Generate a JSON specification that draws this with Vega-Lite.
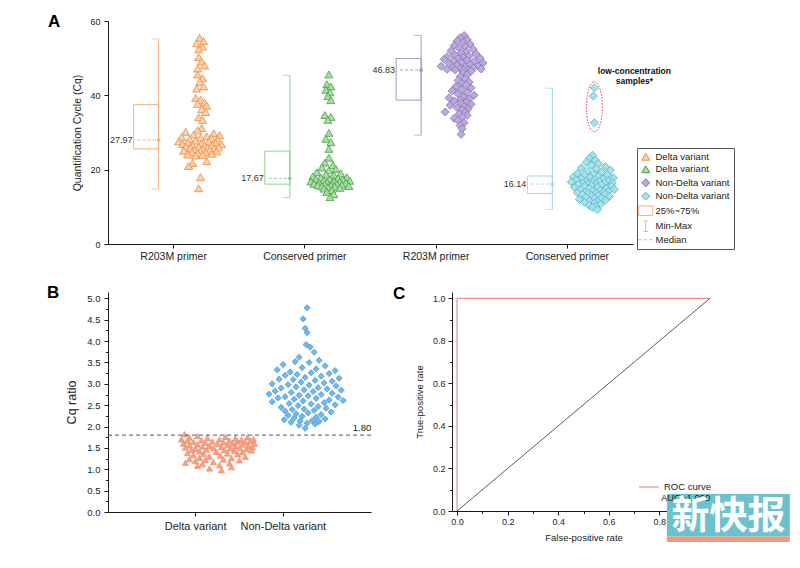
{
"$schema":"https://vega.github.io/schema/vega-lite/v6.json",
"padding":{"left":47,"top":13,"right":5,"bottom":5},
"background":"white",
"config":{"font":"Liberation Sans","view":{"stroke":null},"axis":{"grid":false,"domainColor":"#1a1a1a","tickColor":"#1a1a1a","labelColor":"#222","titleColor":"#222","titleFontWeight":"normal"}},
"resolve":{"scale":{"shape":"independent","fill":"independent","stroke":"independent","color":"independent"}},
"datasets":{
"pa":[
{"c":"R1","v":55.5,"j":26},{"c":"R1","v":54.6,"j":30},{"c":"R1","v":54.0,"j":23},{"c":"R1","v":53.1,"j":29},{"c":"R1","v":52.4,"j":25},{"c":"R1","v":50.3,"j":25},{"c":"R1","v":49.1,"j":28},{"c":"R1","v":48.0,"j":31},{"c":"R1","v":47.2,"j":24},{"c":"R1","v":45.6,"j":24},{"c":"R1","v":44.6,"j":29},{"c":"R1","v":43.6,"j":26},{"c":"R1","v":42.4,"j":30},{"c":"R1","v":41.8,"j":23},{"c":"R1","v":39.3,"j":22},{"c":"R1","v":38.8,"j":27},{"c":"R1","v":38.1,"j":31},{"c":"R1","v":37.7,"j":24},{"c":"R1","v":37.2,"j":33},{"c":"R1","v":36.3,"j":28},{"c":"R1","v":35.5,"j":32},{"c":"R1","v":34.1,"j":25},{"c":"R1","v":33.4,"j":29},{"c":"R1","v":31.2,"j":28},{"c":"R1","v":30.6,"j":24},
{"c":"R1","v":30.2,"j":12},{"c":"R1","v":29.8,"j":40},{"c":"R1","v":29.5,"j":20},{"c":"R1","v":29.3,"j":46},{"c":"R1","v":29.0,"j":33},{"c":"R1","v":28.8,"j":8},{"c":"R1","v":28.6,"j":27},{"c":"R1","v":28.4,"j":38},{"c":"R1","v":28.2,"j":16},{"c":"R1","v":28.1,"j":44},
{"c":"R1","v":27.8,"j":22},{"c":"R1","v":27.6,"j":5},{"c":"R1","v":27.5,"j":35},{"c":"R1","v":27.3,"j":14},{"c":"R1","v":27.2,"j":42},{"c":"R1","v":27.0,"j":28},{"c":"R1","v":26.9,"j":9},{"c":"R1","v":26.8,"j":48},{"c":"R1","v":26.6,"j":19},{"c":"R1","v":26.5,"j":31},{"c":"R1","v":26.4,"j":38},{"c":"R1","v":26.2,"j":12},{"c":"R1","v":26.1,"j":25},{"c":"R1","v":26.0,"j":45},{"c":"R1","v":25.9,"j":34},{"c":"R1","v":25.8,"j":17},{"c":"R1","v":25.7,"j":40},{"c":"R1","v":25.6,"j":29},
{"c":"R1","v":25.4,"j":21},{"c":"R1","v":25.3,"j":36},{"c":"R1","v":25.1,"j":10},{"c":"R1","v":25.0,"j":27},{"c":"R1","v":24.9,"j":43},{"c":"R1","v":24.7,"j":18},{"c":"R1","v":24.6,"j":32},{"c":"R1","v":24.4,"j":24},{"c":"R1","v":24.3,"j":38},{"c":"R1","v":24.1,"j":14},{"c":"R1","v":24.0,"j":29},{"c":"R1","v":23.8,"j":22},
{"c":"R1","v":22.3,"j":33},{"c":"R1","v":21.8,"j":19},{"c":"R1","v":21.0,"j":15},{"c":"R1","v":18.0,"j":27},{"c":"R1","v":15.0,"j":25},
{"c":"C1","v":45.6,"j":24},{"c":"C1","v":43.0,"j":22},{"c":"C1","v":42.4,"j":26},{"c":"C1","v":41.5,"j":21},{"c":"C1","v":40.8,"j":25},{"c":"C1","v":39.8,"j":23},{"c":"C1","v":38.7,"j":26},{"c":"C1","v":34.7,"j":20},{"c":"C1","v":34.2,"j":26},{"c":"C1","v":33.4,"j":23},{"c":"C1","v":29.9,"j":24},{"c":"C1","v":28.3,"j":21},{"c":"C1","v":27.4,"j":26},{"c":"C1","v":25.6,"j":24},
{"c":"C1","v":23.2,"j":24},{"c":"C1","v":21.9,"j":20},{"c":"C1","v":21.2,"j":28},{"c":"C1","v":20.6,"j":17},{"c":"C1","v":20.2,"j":31},{"c":"C1","v":19.8,"j":24},{"c":"C1","v":19.3,"j":12},{"c":"C1","v":19.0,"j":36},{"c":"C1","v":18.7,"j":21},{"c":"C1","v":18.5,"j":29},{"c":"C1","v":18.2,"j":8},{"c":"C1","v":18.0,"j":42},{"c":"C1","v":17.9,"j":16},{"c":"C1","v":17.7,"j":33},
{"c":"C1","v":17.5,"j":25},{"c":"C1","v":17.4,"j":11},{"c":"C1","v":17.3,"j":38},{"c":"C1","v":17.1,"j":19},{"c":"C1","v":17.0,"j":45},{"c":"C1","v":16.9,"j":29},{"c":"C1","v":16.8,"j":6},{"c":"C1","v":16.7,"j":35},{"c":"C1","v":16.6,"j":22},{"c":"C1","v":16.5,"j":14},{"c":"C1","v":16.4,"j":41},{"c":"C1","v":16.3,"j":27},{"c":"C1","v":16.2,"j":9},{"c":"C1","v":16.1,"j":32},
{"c":"C1","v":16.0,"j":20},{"c":"C1","v":15.9,"j":37},{"c":"C1","v":15.8,"j":13},{"c":"C1","v":15.7,"j":26},{"c":"C1","v":15.6,"j":44},{"c":"C1","v":15.5,"j":17},{"c":"C1","v":15.4,"j":30},{"c":"C1","v":15.3,"j":23},{"c":"C1","v":15.1,"j":35},{"c":"C1","v":14.9,"j":19},{"c":"C1","v":14.5,"j":27},{"c":"C1","v":14.0,"j":22},{"c":"C1","v":13.4,"j":29},{"c":"C1","v":12.6,"j":25},
{"c":"R2","v":56.1,"j":28},{"c":"R2","v":55.5,"j":24},{"c":"R2","v":55.0,"j":31},{"c":"R2","v":54.6,"j":21},{"c":"R2","v":54.2,"j":27},{"c":"R2","v":53.8,"j":34},{"c":"R2","v":53.4,"j":18},{"c":"R2","v":53.1,"j":29},{"c":"R2","v":52.7,"j":23},{"c":"R2","v":52.4,"j":37},{"c":"R2","v":52.0,"j":15},{"c":"R2","v":51.7,"j":30},{"c":"R2","v":51.4,"j":25},{"c":"R2","v":51.1,"j":40},{"c":"R2","v":50.8,"j":19},{"c":"R2","v":50.6,"j":33},{"c":"R2","v":50.4,"j":11},{"c":"R2","v":50.2,"j":27},{"c":"R2","v":50.0,"j":44},{"c":"R2","v":49.9,"j":22},
{"c":"R2","v":49.7,"j":8},{"c":"R2","v":49.5,"j":31},{"c":"R2","v":49.3,"j":17},{"c":"R2","v":49.1,"j":38},{"c":"R2","v":48.9,"j":25},{"c":"R2","v":48.7,"j":47},{"c":"R2","v":48.5,"j":13},{"c":"R2","v":48.3,"j":34},{"c":"R2","v":48.1,"j":21},{"c":"R2","v":47.9,"j":42},{"c":"R2","v":47.8,"j":5},{"c":"R2","v":47.6,"j":29},{"c":"R2","v":47.5,"j":16},{"c":"R2","v":47.3,"j":37},{"c":"R2","v":47.2,"j":24},{"c":"R2","v":47.1,"j":45},{"c":"R2","v":47.0,"j":11},{"c":"R2","v":46.9,"j":32},{"c":"R2","v":46.85,"j":19},{"c":"R2","v":46.8,"j":27},
{"c":"R2","v":46.5,"j":35},{"c":"R2","v":46.0,"j":27},{"c":"R2","v":45.5,"j":31},{"c":"R2","v":45.0,"j":24},{"c":"R2","v":44.5,"j":29},{"c":"R2","v":44.0,"j":22},{"c":"R2","v":43.6,"j":33},{"c":"R2","v":43.2,"j":26},{"c":"R2","v":42.8,"j":30},{"c":"R2","v":42.4,"j":20},{"c":"R2","v":42.0,"j":35},{"c":"R2","v":41.6,"j":25},{"c":"R2","v":41.2,"j":16},{"c":"R2","v":40.8,"j":31},{"c":"R2","v":40.4,"j":22},{"c":"R2","v":40.0,"j":38},{"c":"R2","v":39.6,"j":27},{"c":"R2","v":39.3,"j":13},{"c":"R2","v":39.0,"j":33},{"c":"R2","v":38.8,"j":24},
{"c":"R2","v":38.5,"j":18},{"c":"R2","v":38.2,"j":30},{"c":"R2","v":37.9,"j":25},{"c":"R2","v":37.6,"j":35},{"c":"R2","v":37.3,"j":14},{"c":"R2","v":37.0,"j":28},{"c":"R2","v":36.7,"j":21},{"c":"R2","v":36.4,"j":32},{"c":"R2","v":36.1,"j":26},{"c":"R2","v":35.5,"j":9},{"c":"R2","v":35.4,"j":29},{"c":"R2","v":35.0,"j":23},{"c":"R2","v":34.6,"j":31},{"c":"R2","v":34.2,"j":26},{"c":"R2","v":33.8,"j":18},{"c":"R2","v":33.3,"j":22},{"c":"R2","v":32.6,"j":28},{"c":"R2","v":31.9,"j":24},{"c":"R2","v":31.0,"j":26},{"c":"R2","v":29.5,"j":25},
{"c":"C2","v":42.0,"j":27},{"c":"C2","v":39.8,"j":26},{"c":"C2","v":32.6,"j":27},
{"c":"C2","v":23.9,"j":25},{"c":"C2","v":23.0,"j":22},{"c":"C2","v":22.6,"j":28},{"c":"C2","v":22.0,"j":19},{"c":"C2","v":21.6,"j":31},{"c":"C2","v":21.2,"j":24},{"c":"C2","v":20.8,"j":38},{"c":"C2","v":20.5,"j":14},{"c":"C2","v":20.2,"j":29},{"c":"C2","v":19.9,"j":43},{"c":"C2","v":19.6,"j":20},{"c":"C2","v":19.3,"j":34},{"c":"C2","v":19.0,"j":10},{"c":"C2","v":18.8,"j":26},{"c":"C2","v":18.6,"j":40},{"c":"C2","v":18.4,"j":17},
{"c":"C2","v":18.2,"j":31},{"c":"C2","v":18.0,"j":6},{"c":"C2","v":17.9,"j":23},{"c":"C2","v":17.8,"j":46},{"c":"C2","v":17.6,"j":14},{"c":"C2","v":17.5,"j":36},{"c":"C2","v":17.3,"j":27},{"c":"C2","v":17.2,"j":9},{"c":"C2","v":17.0,"j":41},{"c":"C2","v":16.9,"j":19},{"c":"C2","v":16.8,"j":32},{"c":"C2","v":16.7,"j":4},{"c":"C2","v":16.6,"j":25},{"c":"C2","v":16.5,"j":45},{"c":"C2","v":16.4,"j":15},{"c":"C2","v":16.3,"j":37},{"c":"C2","v":16.2,"j":21},{"c":"C2","v":16.15,"j":29},
{"c":"C2","v":16.0,"j":11},{"c":"C2","v":15.9,"j":34},{"c":"C2","v":15.7,"j":24},{"c":"C2","v":15.6,"j":44},{"c":"C2","v":15.5,"j":17},{"c":"C2","v":15.3,"j":30},{"c":"C2","v":15.2,"j":7},{"c":"C2","v":15.0,"j":39},{"c":"C2","v":14.9,"j":22},{"c":"C2","v":14.7,"j":47},{"c":"C2","v":14.6,"j":13},{"c":"C2","v":14.4,"j":33},{"c":"C2","v":14.3,"j":26},{"c":"C2","v":14.1,"j":41},{"c":"C2","v":14.0,"j":18},{"c":"C2","v":13.9,"j":36},{"c":"C2","v":13.8,"j":10},{"c":"C2","v":13.7,"j":29},{"c":"C2","v":13.6,"j":21},
{"c":"C2","v":13.4,"j":38},{"c":"C2","v":13.3,"j":15},{"c":"C2","v":13.1,"j":31},{"c":"C2","v":13.0,"j":24},{"c":"C2","v":12.8,"j":42},{"c":"C2","v":12.6,"j":19},{"c":"C2","v":12.4,"j":34},{"c":"C2","v":12.2,"j":27},{"c":"C2","v":12.0,"j":12},{"c":"C2","v":11.8,"j":38},{"c":"C2","v":11.6,"j":22},{"c":"C2","v":11.4,"j":30},{"c":"C2","v":11.2,"j":17},{"c":"C2","v":11.0,"j":27},{"c":"C2","v":10.7,"j":33},{"c":"C2","v":10.4,"j":22},{"c":"C2","v":10.1,"j":28},{"c":"C2","v":9.8,"j":25},{"c":"C2","v":9.3,"j":30}
],
"boxes":[
{"c":"R1","mn":14.8,"q1":25.6,"med":27.97,"q3":37.5,"mx":55.2,"lab":"27.97"},
{"c":"C1","mn":12.5,"q1":16.1,"med":17.67,"q3":25.0,"mx":45.4,"lab":"17.67"},
{"c":"R2","mn":29.3,"q1":38.7,"med":46.83,"q3":49.9,"mx":56.1,"lab":"46.83"},
{"c":"C2","mn":9.3,"q1":13.6,"med":16.14,"q3":18.3,"mx":41.9,"lab":"16.14"}
],
"pb":[
{"c":"Delta variant","v":1.82,"j":-33},{"c":"Delta variant","v":1.78,"j":-20},{"c":"Delta variant","v":1.76,"j":8},{"c":"Delta variant","v":1.75,"j":30},{"c":"Delta variant","v":1.74,"j":-28},{"c":"Delta variant","v":1.73,"j":-10},{"c":"Delta variant","v":1.72,"j":18},{"c":"Delta variant","v":1.71,"j":36},{"c":"Delta variant","v":1.70,"j":-36},{"c":"Delta variant","v":1.70,"j":2},{"c":"Delta variant","v":1.69,"j":24},{"c":"Delta variant","v":1.68,"j":-16},{"c":"Delta variant","v":1.67,"j":12},{"c":"Delta variant","v":1.67,"j":-30},{"c":"Delta variant","v":1.66,"j":33},{"c":"Delta variant","v":1.65,"j":-5},{"c":"Delta variant","v":1.65,"j":20},{"c":"Delta variant","v":1.64,"j":-24},{"c":"Delta variant","v":1.63,"j":28},{"c":"Delta variant","v":1.63,"j":6},{"c":"Delta variant","v":1.62,"j":-12},{"c":"Delta variant","v":1.61,"j":15},{"c":"Delta variant","v":1.60,"j":-34},{"c":"Delta variant","v":1.60,"j":37},{"c":"Delta variant","v":1.59,"j":0},{"c":"Delta variant","v":1.58,"j":-20},{"c":"Delta variant","v":1.58,"j":25},{"c":"Delta variant","v":1.57,"j":10},{"c":"Delta variant","v":1.56,"j":-28},{"c":"Delta variant","v":1.55,"j":31},{"c":"Delta variant","v":1.55,"j":-8},{"c":"Delta variant","v":1.54,"j":18},{"c":"Delta variant","v":1.53,"j":-15},{"c":"Delta variant","v":1.52,"j":35},{"c":"Delta variant","v":1.52,"j":4},{"c":"Delta variant","v":1.51,"j":-32},{"c":"Delta variant","v":1.50,"j":22},{"c":"Delta variant","v":1.50,"j":-4},{"c":"Delta variant","v":1.49,"j":13},{"c":"Delta variant","v":1.48,"j":-22},{"c":"Delta variant","v":1.47,"j":29},{"c":"Delta variant","v":1.46,"j":-11},{"c":"Delta variant","v":1.45,"j":7},{"c":"Delta variant","v":1.45,"j":-26},{"c":"Delta variant","v":1.44,"j":34},{"c":"Delta variant","v":1.43,"j":17},{"c":"Delta variant","v":1.42,"j":-18},{"c":"Delta variant","v":1.41,"j":-1},{"c":"Delta variant","v":1.40,"j":25},{"c":"Delta variant","v":1.38,"j":-30},{"c":"Delta variant","v":1.37,"j":10},{"c":"Delta variant","v":1.36,"j":-14},{"c":"Delta variant","v":1.35,"j":20},{"c":"Delta variant","v":1.33,"j":-24},{"c":"Delta variant","v":1.32,"j":3},{"c":"Delta variant","v":1.30,"j":-8},{"c":"Delta variant","v":1.29,"j":28},{"c":"Delta variant","v":1.27,"j":-18},{"c":"Delta variant","v":1.26,"j":14},{"c":"Delta variant","v":1.24,"j":-28},{"c":"Delta variant","v":1.23,"j":6},{"c":"Delta variant","v":1.22,"j":-12},{"c":"Delta variant","v":1.21,"j":22},{"c":"Delta variant","v":1.19,"j":-22},{"c":"Delta variant","v":1.17,"j":-4},{"c":"Delta variant","v":1.15,"j":-32},{"c":"Delta variant","v":1.14,"j":12},{"c":"Delta variant","v":1.12,"j":-15},{"c":"Delta variant","v":1.10,"j":2},{"c":"Delta variant","v":1.08,"j":-20},{"c":"Delta variant","v":1.05,"j":14},{"c":"Delta variant","v":1.02,"j":-8},{"c":"Delta variant","v":0.98,"j":4},
{"c":"Non-Delta variant","v":4.78,"j":2},{"c":"Non-Delta variant","v":4.52,"j":-2},{"c":"Non-Delta variant","v":4.30,"j":0},{"c":"Non-Delta variant","v":4.20,"j":2},{"c":"Non-Delta variant","v":3.92,"j":1},{"c":"Non-Delta variant","v":3.86,"j":5},{"c":"Non-Delta variant","v":3.74,"j":9},{"c":"Non-Delta variant","v":3.62,"j":-6},{"c":"Non-Delta variant","v":3.55,"j":14},{"c":"Non-Delta variant","v":3.52,"j":-10},{"c":"Non-Delta variant","v":3.50,"j":4},{"c":"Non-Delta variant","v":3.45,"j":-22},{"c":"Non-Delta variant","v":3.42,"j":20},{"c":"Non-Delta variant","v":3.38,"j":-3},{"c":"Non-Delta variant","v":3.35,"j":11},{"c":"Non-Delta variant","v":3.33,"j":-28},{"c":"Non-Delta variant","v":3.31,"j":30},{"c":"Non-Delta variant","v":3.28,"j":-15},{"c":"Non-Delta variant","v":3.26,"j":6},{"c":"Non-Delta variant","v":3.24,"j":24},{"c":"Non-Delta variant","v":3.22,"j":-8},{"c":"Non-Delta variant","v":3.20,"j":-20},{"c":"Non-Delta variant","v":3.18,"j":16},{"c":"Non-Delta variant","v":3.15,"j":0},{"c":"Non-Delta variant","v":3.13,"j":34},{"c":"Non-Delta variant","v":3.11,"j":-26},{"c":"Non-Delta variant","v":3.10,"j":-12},{"c":"Non-Delta variant","v":3.08,"j":10},{"c":"Non-Delta variant","v":3.06,"j":27},{"c":"Non-Delta variant","v":3.04,"j":-4},{"c":"Non-Delta variant","v":3.02,"j":19},{"c":"Non-Delta variant","v":3.00,"j":-33},{"c":"Non-Delta variant","v":2.98,"j":-17},{"c":"Non-Delta variant","v":2.97,"j":4},{"c":"Non-Delta variant","v":2.95,"j":31},{"c":"Non-Delta variant","v":2.93,"j":-9},{"c":"Non-Delta variant","v":2.91,"j":13},{"c":"Non-Delta variant","v":2.90,"j":-24},{"c":"Non-Delta variant","v":2.88,"j":22},{"c":"Non-Delta variant","v":2.86,"j":-1},{"c":"Non-Delta variant","v":2.85,"j":36},{"c":"Non-Delta variant","v":2.83,"j":-30},{"c":"Non-Delta variant","v":2.82,"j":8},{"c":"Non-Delta variant","v":2.80,"j":-14},{"c":"Non-Delta variant","v":2.78,"j":27},{"c":"Non-Delta variant","v":2.76,"j":-36},{"c":"Non-Delta variant","v":2.75,"j":16},{"c":"Non-Delta variant","v":2.73,"j":-6},{"c":"Non-Delta variant","v":2.72,"j":3},{"c":"Non-Delta variant","v":2.70,"j":-20},{"c":"Non-Delta variant","v":2.69,"j":33},{"c":"Non-Delta variant","v":2.67,"j":-27},{"c":"Non-Delta variant","v":2.66,"j":11},{"c":"Non-Delta variant","v":2.64,"j":-11},{"c":"Non-Delta variant","v":2.62,"j":24},{"c":"Non-Delta variant","v":2.61,"j":38},{"c":"Non-Delta variant","v":2.60,"j":-2},{"c":"Non-Delta variant","v":2.58,"j":-33},{"c":"Non-Delta variant","v":2.56,"j":19},{"c":"Non-Delta variant","v":2.54,"j":-16},{"c":"Non-Delta variant","v":2.53,"j":6},{"c":"Non-Delta variant","v":2.51,"j":30},{"c":"Non-Delta variant","v":2.49,"j":-7},{"c":"Non-Delta variant","v":2.47,"j":13},{"c":"Non-Delta variant","v":2.45,"j":-24},{"c":"Non-Delta variant","v":2.43,"j":21},{"c":"Non-Delta variant","v":2.41,"j":-1},{"c":"Non-Delta variant","v":2.40,"j":-13},{"c":"Non-Delta variant","v":2.38,"j":9},{"c":"Non-Delta variant","v":2.36,"j":-20},{"c":"Non-Delta variant","v":2.34,"j":26},{"c":"Non-Delta variant","v":2.32,"j":3},{"c":"Non-Delta variant","v":2.30,"j":-9},{"c":"Non-Delta variant","v":2.28,"j":16},{"c":"Non-Delta variant","v":2.26,"j":-17},{"c":"Non-Delta variant","v":2.24,"j":-3},{"c":"Non-Delta variant","v":2.22,"j":11},{"c":"Non-Delta variant","v":2.20,"j":-11},{"c":"Non-Delta variant","v":2.18,"j":20},{"c":"Non-Delta variant","v":2.16,"j":-21},{"c":"Non-Delta variant","v":2.14,"j":7},{"c":"Non-Delta variant","v":2.13,"j":-5},{"c":"Non-Delta variant","v":2.12,"j":14},{"c":"Non-Delta variant","v":2.10,"j":-14},{"c":"Non-Delta variant","v":2.08,"j":2},{"c":"Non-Delta variant","v":2.06,"j":10},{"c":"Non-Delta variant","v":2.03,"j":-6},{"c":"Non-Delta variant","v":1.96,"j":0}
],
"roc":[{"fpr":0,"tpr":0,"o":0,"k":"ROC curve"},{"fpr":0,"tpr":1,"o":1,"k":"ROC curve"},{"fpr":1,"tpr":1,"o":2,"k":"ROC curve"}],
"diag":[{"fpr":0,"tpr":0},{"fpr":1,"tpr":1}]
},
"bounds":"flush",
"spacing":48,
"vconcat":[
{
"width":525,"height":223,
"title":{"text":"A","anchor":"start","frame":"group","dx":-60,"dy":27,"offset":0,"fontSize":17,"fontWeight":"bold","color":"#000","baseline":"alphabetic"},
"layer":[
{"data":{"name":"pa"},"mark":{"type":"point","filled":true,"size":64,"strokeWidth":0.8,"opacity":1},
"encoding":{
"x":{"field":"c","type":"nominal","scale":{"type":"band","domain":["R1","C1","R2","C2"],"paddingInner":0,"paddingOuter":0},"axis":{"title":null,"labelExpr":"datum.value=='R1'||datum.value=='R2'?'R203M primer':'Conserved primer'","labelFontSize":10.5,"labelAngle":0,"tickSize":4,"labelPadding":3}},
"xOffset":{"field":"j","type":"quantitative","scale":{"domain":[-65.625,65.625],"range":[0,131.25],"nice":false,"zero":false}},
"y":{"field":"v","type":"quantitative","scale":{"domain":[0,60],"nice":false,"zero":false},"axis":{"values":[0,10,20,30,40,50,60],"title":"Quantification Cycle (Cq)","titleFontSize":10.5,"labelFontSize":9,"tickSize":4,"labelPadding":4,"titlePadding":7}},
"shape":{"field":"c","type":"nominal","title":null,"scale":{"domain":["R1","C1","R2","C2","box","mm","med"],"range":["triangle-up","triangle-up","diamond","diamond","M-1.75,-1.2L1.75,-1.2L1.75,1.2L-1.75,1.2Z","M-0.6,-1.3L0.6,-1.3M0,-1.3L0,1.3M-0.6,1.3L0.6,1.3","M-1.9,0L-1.1,0M-0.5,0L0.3,0M0.9,0L1.7,0"]},
"legend":{"orient":"none","legendX":529,"legendY":127,"title":null,"labelExpr":"datum.value=='R1'||datum.value=='C1'?'Delta variant':datum.value=='R2'||datum.value=='C2'?'Non-Delta variant':datum.value=='box'?'25%~75%':datum.value=='mm'?'Min-Max':'Median'","labelFontSize":9.5,"labelColor":"#222","symbolSize":64,"symbolStrokeWidth":1,"rowPadding":0.5,"padding":4,"strokeColor":"#555","labelOffset":5}},
"fill":{"field":"c","type":"nominal","title":null,"scale":{"domain":["R1","C1","R2","C2","box","mm","med"],"range":["#fbd0ad","#abdca5","#bba9da","#a9e1ea","rgba(255,255,255,0)","rgba(255,255,255,0)","rgba(255,255,255,0)"]}},
"stroke":{"field":"c","type":"nominal","title":null,"scale":{"domain":["R1","C1","R2","C2","box","mm","med"],"range":["#ec8b40","#44a044","#8672b8","#4db3c6","#f4b283","#f4b283","#f4b283"]}}
}},
{"data":{"name":"boxes"},"mark":{"type":"bar","width":25,"xOffset":-27.5,"filled":false,"strokeWidth":1},
"encoding":{"x":{"field":"c","type":"nominal"},"y":{"field":"q1","type":"quantitative"},"y2":{"field":"q3"},
"color":{"field":"c","type":"nominal","scale":{"domain":["R1","C1","R2","C2"],"range":["#f6b07c","#8ed08a","#a497c6","#9fd8e4"]},"legend":null}}},
{"data":{"name":"boxes"},"mark":{"type":"rule","xOffset":-15,"strokeWidth":1},
"encoding":{"x":{"field":"c","type":"nominal"},"y":{"field":"mn","type":"quantitative"},"y2":{"field":"mx"},"color":{"field":"c","type":"nominal","legend":null}}},
{"data":{"name":"boxes"},"mark":{"type":"tick","size":7,"thickness":1,"xOffset":-18.5,"orient":"horizontal"},
"encoding":{"x":{"field":"c","type":"nominal"},"y":{"field":"mn","type":"quantitative"},"color":{"field":"c","type":"nominal","legend":null}}},
{"data":{"name":"boxes"},"mark":{"type":"tick","size":7,"thickness":1,"xOffset":-18.5,"orient":"horizontal"},
"encoding":{"x":{"field":"c","type":"nominal"},"y":{"field":"mx","type":"quantitative"},"color":{"field":"c","type":"nominal","legend":null}}},
{"data":{"name":"boxes"},"mark":{"type":"point","shape":"M-1,0L-0.72,0M-0.52,0L-0.24,0M-0.04,0L0.24,0M0.44,0L0.72,0M0.92,0L1,0","size":441,"filled":false,"strokeWidth":1,"xOffset":-25.5,"opacity":1},
"encoding":{"x":{"field":"c","type":"nominal"},"y":{"field":"med","type":"quantitative"},"color":{"field":"c","type":"nominal","legend":null}}},
{"data":{"name":"boxes"},"mark":{"type":"point","filled":true,"size":14,"xOffset":-15,"opacity":1},
"encoding":{"x":{"field":"c","type":"nominal"},"y":{"field":"med","type":"quantitative"},"color":{"field":"c","type":"nominal","legend":null}}},
{"data":{"name":"boxes"},"mark":{"type":"text","align":"right","baseline":"middle","xOffset":-41,"fontSize":9,"color":"#333"},
"encoding":{"x":{"field":"c","type":"nominal"},"y":{"field":"med","type":"quantitative"},"text":{"field":"lab"}}},
{"data":{"values":[{"c":"C2","v":36.9}]},"mark":{"type":"point","shape":"M0,-1C0.177,-1 0.32,-0.552 0.32,0C0.32,0.552 0.177,1 0,1C-0.177,1 -0.32,0.552 -0.32,0C-0.32,-0.552 -0.177,-1 0,-1Z","size":2500,"filled":false,"stroke":"#e2474b","strokeDash":[1.5,1.5],"strokeWidth":1,"xOffset":27,"opacity":1},
"encoding":{"x":{"field":"c","type":"nominal"},"y":{"field":"v","type":"quantitative"}}},
{"data":{"values":[{"c":"C2","v":47.6,"t":"low-concentration\nsamples*"}]},"mark":{"type":"text","lineBreak":"\n","xOffset":67,"align":"center","baseline":"top","fontSize":8.5,"fontWeight":"bold","lineHeight":9.5,"color":"#111"},
"encoding":{"x":{"field":"c","type":"nominal"},"y":{"field":"v","type":"quantitative"},"text":{"field":"t"}}}
]
},
{
"resolve":{"scale":{"shape":"independent","fill":"independent","stroke":"independent","color":"independent"}},
"hconcat":[
{
"width":263,"height":220,
"title":{"text":"B","anchor":"start","frame":"group","dx":-61,"dy":23,"offset":0,"fontSize":17,"fontWeight":"bold","color":"#000","baseline":"alphabetic"},
"resolve":{"axis":{"y":"independent"}},
"layer":[
{"data":{"name":"pb"},"mark":{"type":"point","filled":true,"size":38,"strokeWidth":0.7,"opacity":1},
"encoding":{
"x":{"field":"c","type":"nominal","scale":{"type":"band","domain":["Delta variant","Non-Delta variant"],"paddingInner":0,"paddingOuter":0.5},"axis":{"title":null,"labelAngle":0,"labelFontSize":11,"tickSize":4,"labelPadding":4}},
"xOffset":{"field":"j","type":"quantitative","scale":{"domain":[-43.8333,43.8333],"range":[0,87.6667],"nice":false,"zero":false}},
"y":{"field":"v","type":"quantitative","scale":{"domain":[0,5.15],"nice":false,"zero":false},"axis":{"values":[0,0.5,1,1.5,2,2.5,3,3.5,4,4.5,5],"format":".1f","title":"Cq ratio","titleFontSize":12.5,"labelFontSize":9.5,"tickSize":4,"labelPadding":4,"titlePadding":8}},
"shape":{"field":"c","type":"nominal","scale":{"domain":["Delta variant","Non-Delta variant"],"range":["triangle-up","diamond"]},"legend":null},
"fill":{"field":"c","type":"nominal","scale":{"domain":["Delta variant","Non-Delta variant"],"range":["#f5a287","#74b7ea"]},"legend":null},
"stroke":{"field":"c","type":"nominal","scale":{"domain":["Delta variant","Non-Delta variant"],"range":["#ec8866","#3f90d4"]},"legend":null}
}},
{"data":{"values":[{}]},"mark":{"type":"rule","strokeDash":[4,3],"color":"#555","strokeWidth":1},
"encoding":{"y":{"datum":1.8,"type":"quantitative","axis":{"orient":"left","values":[0.25,0.75,1.25,1.75,2.25,2.75,3.25,3.75,4.25,4.75],"labels":false,"domain":false,"tickSize":2.5,"title":null}}}},
{"data":{"values":[{"c":"Non-Delta variant","v":1.8,"t":"1.80"}]},"mark":{"type":"text","align":"right","baseline":"bottom","xOffset":88,"dy":-2,"fontSize":9.5,"color":"#222"},
"encoding":{"x":{"field":"c","type":"nominal"},"y":{"field":"v","type":"quantitative","axis":null},"text":{"field":"t"}}}
]
},
{
"width":263,"height":219,
"title":{"text":"C","anchor":"start","frame":"group","dx":-59,"dy":24,"offset":0,"fontSize":17,"fontWeight":"bold","color":"#000","baseline":"alphabetic"},
"resolve":{"axis":{"x":"independent","y":"independent"}},
"layer":[
{"data":{"name":"roc"},"mark":{"type":"line","strokeWidth":1.2},
"encoding":{
"x":{"field":"fpr","type":"quantitative","scale":{"domain":[-0.02,1.02],"nice":false,"zero":false},"axis":{"values":[0,0.2,0.4,0.6,0.8,1],"format":".1f","title":"False-positive rate","titleFontSize":9.5,"labelFontSize":9,"tickSize":4,"labelPadding":2,"titlePadding":6}},
"y":{"field":"tpr","type":"quantitative","scale":{"domain":[0,1.03],"nice":false,"zero":false},"axis":{"values":[0,0.2,0.4,0.6,0.8,1],"format":".1f","title":"True-positive rate","titleFontSize":9.5,"labelFontSize":9,"tickSize":4,"labelPadding":3,"titlePadding":8}},
"order":{"field":"o","type":"quantitative"},
"stroke":{"field":"k","type":"nominal","scale":{"domain":["ROC curve"],"range":["#f28b8b"]},"legend":{"orient":"none","legendX":186,"legendY":184,"title":null,"symbolType":"stroke","symbolSize":400,"symbolStrokeWidth":1.2,"labelFontSize":9.5,"labelOffset":4,"padding":0,"labelColor":"#222"}}
}},
{"data":{"name":"diag"},"mark":{"type":"line","color":"#333","strokeWidth":0.8},
"encoding":{
"x":{"field":"fpr","type":"quantitative","axis":{"orient":"bottom","values":[0.1,0.3,0.5,0.7,0.9],"labels":false,"domain":false,"tickSize":2.5,"title":null}},
"y":{"field":"tpr","type":"quantitative","axis":{"orient":"left","values":[0.1,0.3,0.5,0.7,0.9],"labels":false,"domain":false,"tickSize":2.5,"title":null}}
}},
{"data":{"values":[{"x1":0.83,"x2":1.316,"y1":-0.12,"y2":0.08}]},"mark":{"type":"rect","color":"#69c3ce"},
"encoding":{"x":{"field":"x1","type":"quantitative","axis":null},"x2":{"field":"x2"},"y":{"field":"y1","type":"quantitative","axis":null},"y2":{"field":"y2"}}},
{"data":{"values":[{"x1":0.83,"x2":1.316,"y1":-0.146,"y2":-0.12}]},"mark":{"type":"rect","color":"#ec9c7c"},
"encoding":{"x":{"field":"x1","type":"quantitative","axis":null},"x2":{"field":"x2"},"y":{"field":"y1","type":"quantitative","axis":null},"y2":{"field":"y2"}}},
{"data":{"values":[{"fpr":0.806,"tpr":0.061,"t":"AUC=1.000"}]},"mark":{"type":"text","align":"left","baseline":"middle","fontSize":9.5,"color":"#222"},
"encoding":{"x":{"field":"fpr","type":"quantitative","axis":null},"y":{"field":"tpr","type":"quantitative","axis":null},"text":{"field":"t"}}},
{"data":{"values":[{"fpr":1.073,"tpr":-0.03,"t":"新快报"}]},"mark":{"type":"text","align":"center","baseline":"middle","fontSize":38,"font":"Noto Sans CJK SC","fontWeight":"bold","color":"#ffffff"},
"encoding":{"x":{"field":"fpr","type":"quantitative","axis":null},"y":{"field":"tpr","type":"quantitative","axis":null},"text":{"field":"t"}}}
]
}
],
"spacing":81,
"bounds":"flush"
}
]
}
